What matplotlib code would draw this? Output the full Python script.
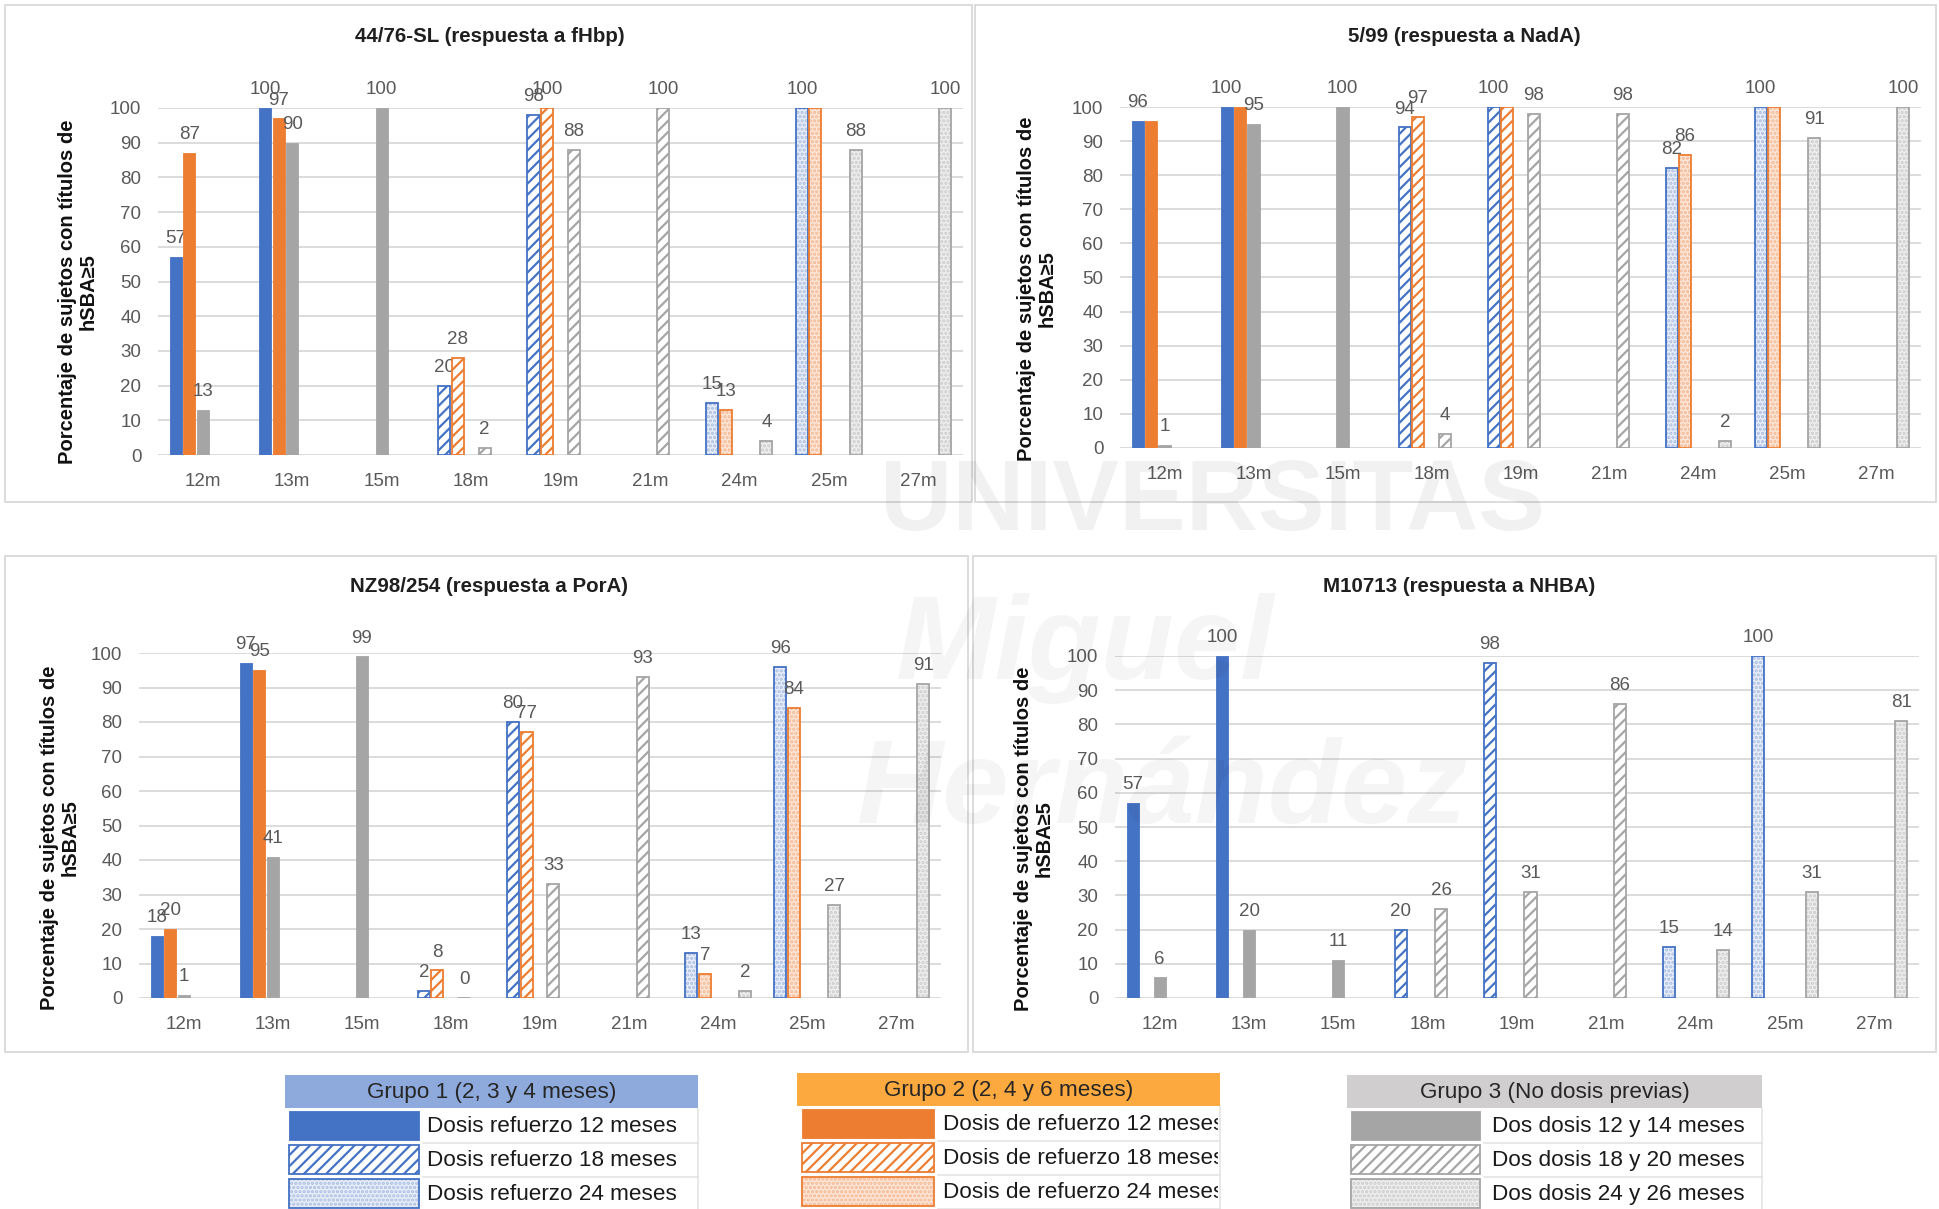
import numpy as np
import matplotlib
matplotlib.use("Agg")
import matplotlib.pyplot as plt
from matplotlib.patches import Rectangle
from matplotlib.transforms import Bbox

plt.rcParams["font.family"] = ["Liberation Sans", "DejaVu Sans"]
plt.rcParams["hatch.linewidth"] = 1.6

W, H, DPI = 1939, 1209, 100

# ---------------- data ----------------
categories = ["12m", "13m", "15m", "18m", "19m", "21m", "24m", "25m", "27m"]
nan = np.nan

# 44/76-SL (fHbp)
fhbp_g1 = [57, 100, nan, 20, 98, nan, 15, 100, nan]
fhbp_g2 = [87, 97, nan, 28, 100, nan, 13, 100, nan]
fhbp_g3_12_14 = [13, 90, 100, nan, nan, nan, nan, nan, nan]
fhbp_g3_18_20 = [nan, nan, nan, 2, 88, 100, nan, nan, nan]
fhbp_g3_24_26 = [nan, nan, nan, nan, nan, nan, 4, 88, 100]

# 5/99 (NadA)
nada_g1 = [96, 100, nan, 94, 100, nan, 82, 100, nan]
nada_g2 = [96, 100, nan, 97, 100, nan, 86, 100, nan]
nada_g3_12_14 = [1, 95, 100, nan, nan, nan, nan, nan, nan]
nada_g3_18_20 = [nan, nan, nan, 4, 98, 98, nan, nan, nan]
nada_g3_24_26 = [nan, nan, nan, nan, nan, nan, 2, 91, 100]

# NZ98/254 (PorA)
pora_g1 = [18, 97, nan, 2, 80, nan, 13, 96, nan]
pora_g2 = [20, 95, nan, 8, 77, nan, 7, 84, nan]
pora_g3_12_14 = [1, 41, 99, nan, nan, nan, nan, nan, nan]
pora_g3_18_20 = [nan, nan, nan, 0, 33, 93, nan, nan, nan]
pora_g3_24_26 = [nan, nan, nan, nan, nan, nan, 2, 27, 91]

# M10713 (NHBA)
nhba_g1 = [57, 100, nan, 20, 98, nan, 15, 100, nan]
nhba_g2 = [nan, nan, nan, nan, nan, nan, nan, nan, nan]
nhba_g3_12_14 = [6, 20, 11, nan, nan, nan, nan, nan, nan]
nhba_g3_18_20 = [nan, nan, nan, 26, 31, 86, nan, nan, nan]
nhba_g3_24_26 = [nan, nan, nan, nan, nan, nan, 14, 31, 81]

# fill pattern of each time point: booster at 12, 18 or 24 months
cat_pattern = ["solid"] * 3 + ["hatch"] * 3 + ["dot"] * 3

titles = ["44/76-SL (respuesta a fHbp)", "5/99 (respuesta a NadA)",
          "NZ98/254 (respuesta a PorA)", "M10713 (respuesta a NHBA)"]
ylabel = "Porcentaje de sujetos con títulos de\nhSBA\u22655"

legend_headers = ["Grupo 1 (2, 3 y 4 meses)", "Grupo 2 (2, 4 y 6 meses)",
                  "Grupo 3 (No dosis previas)"]
legend_rows = [
    ["Dosis refuerzo 12 meses", "Dosis refuerzo 18 meses", "Dosis refuerzo 24 meses"],
    ["Dosis de refuerzo 12 meses", "Dosis de refuerzo 18 meses", "Dosis de refuerzo 24 meses"],
    ["Dos dosis 12 y 14 meses", "Dos dosis 18 y 20 meses", "Dos dosis 24 y 26 meses"],
]

# ---------------- styling ----------------
COLORS = {"blue": "#4472C4", "orange": "#ED7D31", "gray": "#A5A5A5"}
TINTS = {"blue": "#E9EEF8", "orange": "#FCE6D8", "gray": "#EEEEEE"}
DOTS = {"blue": "#A9BDE3", "orange": "#F5B892", "gray": "#CCCCCC"}
HEADER_FILL = ["#8EA9DB", "#FCAA3F", "#D0CECE"]
TEXT_GRAY = "#595959"
GRID = "#D9D9D9"

families = ["blue", "orange", "gray", "gray", "gray"]
slots = [-2, -1, 0, 1, 2]
SLOT = 0.151
BAR_W = 0.135


def draw_patch(ax, kind, fam, x, y, w, h, bar=False):
    """Draw one filled shape (bar or legend swatch) in the given pattern."""
    c = COLORS[fam]
    if kind == "solid":
        styles = [dict(facecolor=c, edgecolor=c, linewidth=0.6)]
    elif kind == "hatch":
        styles = [dict(facecolor="white", edgecolor=c, hatch="///", linewidth=1.3)]
    else:
        styles = [dict(facecolor=TINTS[fam], edgecolor=DOTS[fam], hatch="....", linewidth=0),
                  dict(facecolor="none", edgecolor=c, linewidth=1.3)]
    for st in styles:
        if bar:
            ax.bar(x, h, width=w, bottom=y, align="center", zorder=3, **st)
        else:
            ax.add_patch(Rectangle((x, y), w, h, zorder=3, **st))


def px_axes(l, t, r, b):
    return [l / W, 1 - b / H, (r - l) / W, (b - t) / H]


fig = plt.figure(figsize=(W / DPI, H / DPI), dpi=DPI)
fig.patch.set_facecolor("white")

panels = [
    dict(series=[fhbp_g1, fhbp_g2, fhbp_g3_12_14, fhbp_g3_18_20, fhbp_g3_24_26],
         box=(5, 5, 972, 502), axes=(158, 108, 963, 455), title_xy=(490, 37), ylab_xy=(78, 292)),
    dict(series=[nada_g1, nada_g2, nada_g3_12_14, nada_g3_18_20, nada_g3_24_26],
         box=(975, 5, 1936, 502), axes=(1120, 107, 1921, 448), title_xy=(1464, 37), ylab_xy=(1037, 289)),
    dict(series=[pora_g1, pora_g2, pora_g3_12_14, pora_g3_18_20, pora_g3_24_26],
         box=(5, 556, 968, 1052), axes=(139, 653, 941, 998), title_xy=(489, 587), ylab_xy=(60, 838)),
    dict(series=[nhba_g1, nhba_g2, nhba_g3_12_14, nhba_g3_18_20, nhba_g3_24_26],
         box=(973, 556, 1936, 1052), axes=(1115, 656, 1919, 998), title_xy=(1459, 587), ylab_xy=(1034, 839)),
]

x = np.arange(len(categories))

for p, title in zip(panels, titles):
    ax = fig.add_axes(px_axes(*p["axes"]))
    ax.set_xlim(-0.5, len(categories) - 0.5)
    ax.set_ylim(0, 100)
    ax.set_yticks(np.arange(0, 101, 10))
    ax.set_xticks(x)
    ax.set_xticklabels(categories)
    ax.tick_params(axis="both", length=0, labelsize=13.5, labelcolor=TEXT_GRAY)
    ax.tick_params(axis="y", pad=12)
    ax.tick_params(axis="x", pad=13)
    ax.yaxis.grid(True, color=GRID, linewidth=1.3)
    ax.set_axisbelow(True)
    for s in ax.spines.values():
        s.set_visible(False)

    blue_vals = np.array(p["series"][0], dtype=float)
    for si, (vals, fam, slot) in enumerate(zip(p["series"], families, slots)):
        vals = np.array(vals, dtype=float)
        for i, v in enumerate(vals):
            if np.isnan(v):
                continue
            xc = x[i] + slot * SLOT
            draw_patch(ax, cat_pattern[i], fam, xc, 0, BAR_W, v, bar=True)
            # an orange label equal to the blue one beside it is not repeated
            if si == 1 and not np.isnan(blue_vals[i]) and blue_vals[i] == v:
                continue
            ax.annotate(f"{v:g}", (xc, v), xytext=(0, 10), textcoords="offset points",
                        ha="center", va="baseline", fontsize=13.5, color=TEXT_GRAY,
                        annotation_clip=False)

    fig.text(p["title_xy"][0] / W, 1 - p["title_xy"][1] / H, title, ha="center", va="center",
             fontsize=14.8, fontweight="bold", color="#1F1F1F")
    fig.text(p["ylab_xy"][0] / W, 1 - p["ylab_xy"][1] / H, ylabel, ha="center", va="center",
             rotation=90, fontsize=14.5, fontweight="bold", color="#111111",
             multialignment="center", linespacing=1.1)

# overlay in pixel coordinates for frames, legend tables and watermark
ov = fig.add_axes([0, 0, 1, 1], zorder=10)
ov.set_xlim(0, W)
ov.set_ylim(H, 0)
ov.axis("off")

for p in panels:
    l, t, r, b = p["box"]
    ov.add_patch(Rectangle((l, t), r - l, b - t, facecolor="none", edgecolor=GRID, linewidth=1.3))

# legend tables
tables = [
    dict(x0=285, x1=698, top=1075, sw=(289, 419), tx=427, fam="blue"),
    dict(x0=797, x1=1220, top=1073, sw=(802, 934), tx=943, fam="orange"),
    dict(x0=1347, x1=1762, top=1075, sw=(1351, 1480), tx=1492, fam="gray"),
]
HEAD_H = 33
ROW_H = 34
for tb, head, rows, hfill in zip(tables, legend_headers, legend_rows, HEADER_FILL):
    x0, x1, top = tb["x0"], tb["x1"], tb["top"]
    ov.add_patch(Rectangle((x0, top), x1 - x0, HEAD_H, facecolor=hfill, edgecolor="none"))
    ov.text((x0 + x1) / 2, top + HEAD_H / 2 + 1, head, ha="center", va="center",
            fontsize=16.2, color="#262626")
    for ri, (label, kind) in enumerate(zip(rows, ["solid", "hatch", "dot"])):
        ry = top + HEAD_H + 3 + ri * ROW_H
        s0, s1 = tb["sw"]
        draw_patch(ov, kind, tb["fam"], s0, ry, s1 - s0, ROW_H - 5)
        ov.plot([s1 + 4, x1], [ry + ROW_H - 2, ry + ROW_H - 2], color="#E4E4E4", lw=1.2)
        ov.plot([x1, x1], [ry - 2, ry + ROW_H - 2], color="#E4E4E4", lw=1.2)
        t = ov.text(tb["tx"], ry + (ROW_H - 5) / 2 + 1, label, ha="left", va="center",
                    fontsize=16.2, color="#1A1A1A")
        t.set_clip_box(Bbox.from_extents(tb["tx"] - 5, H - (ry + ROW_H), x1 - 2, H - (ry - 4)))
        t.set_clip_on(True)

# university watermark
wm = dict(color="black", ha="center", va="center", zorder=20, fontweight="bold")
ov.text(1212, 504, "UNIVERSITAS", fontsize=72, alpha=0.055, **wm)
ov.text(1085, 649, "Miguel", fontsize=86, fontstyle="italic", alpha=0.04, **wm)
ov.text(1162, 792, "Hernández", fontsize=86, fontstyle="italic", alpha=0.04, **wm)

fig.savefig("out.png", dpi=DPI, facecolor="white")
